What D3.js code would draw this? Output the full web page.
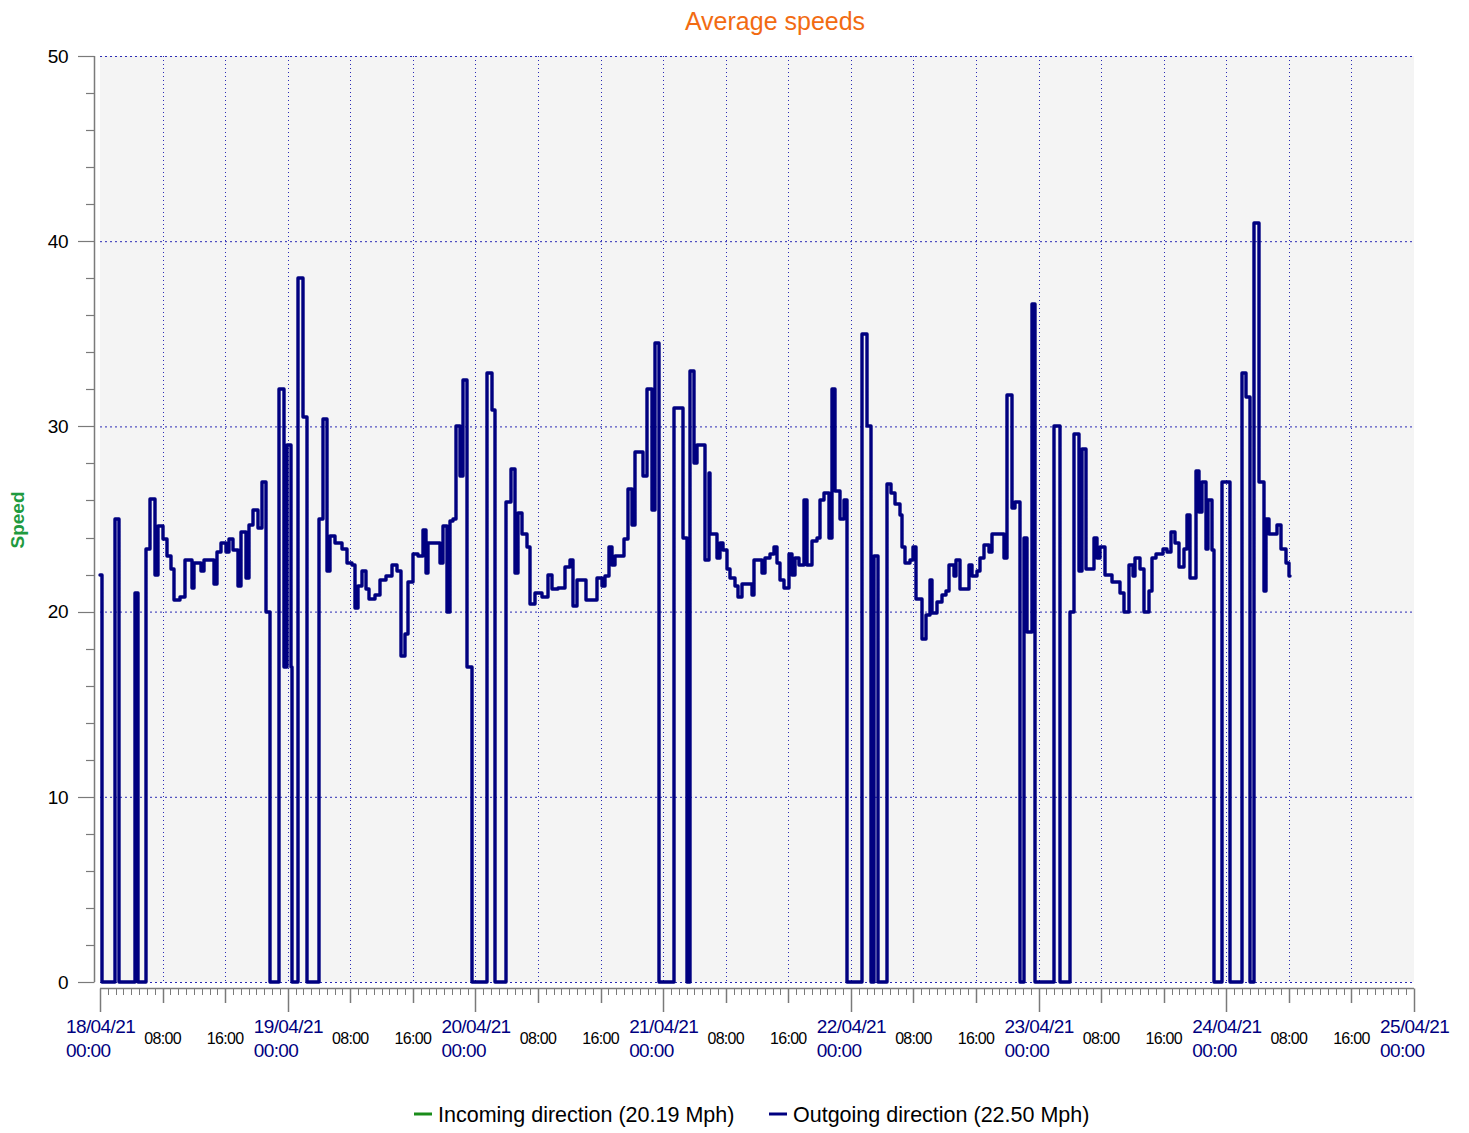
<!DOCTYPE html>
<html>
<head>
<meta charset="utf-8">
<script src="https://cdn.jsdelivr.net/npm/d3@7"></script>
<style>
  body { margin: 0; background: #ffffff; }
  text { font-family: "Liberation Sans", Arial, sans-serif; }
</style>
</head>
<body>
<div id="container"></div>
<script>
var width = 1469;
var height = 1133;

// hours after 18/04/21 00:00 where the outgoing average speed changes
var stepHours = [
    0, 0.26, 1.96, 2.47, 4.51, 4.92, 5.85, 6.40, 7.03, 7.38, 8.02, 8.53, 9.08, 9.50, 10.23, 10.87, 11.73, 12.06, 12.92, 13.34,
    14.62, 14.93, 15.48, 16.08, 16.50, 17.05, 17.61, 18.03, 18.64, 19.06, 19.61, 20.17, 20.68, 21.19, 21.74, 22.89, 23.47, 23.85,
    24.37, 24.56, 25.32, 25.93, 26.51, 28.05, 28.48, 28.99, 29.42, 30.06, 30.91, 31.55, 32.19, 32.61, 33.04, 33.47, 34.02, 34.44,
    35.17, 35.81, 36.58, 37.31, 37.95, 38.46, 39.01, 39.43, 40.07, 40.71, 41.35, 41.66, 41.99, 43.49, 43.91, 44.34, 44.77, 45.19,
    45.53, 46.04, 46.39, 46.90, 47.54,
    49.46, 50.09, 50.52, 51.93, 52.53, 53.08, 53.50, 53.94, 54.58, 55.00, 55.64, 56.49, 57.34, 57.77, 58.62, 59.47, 60.11, 60.54,
    60.97, 62.16, 63.53, 64.17, 64.59, 65.01, 65.45, 65.87, 67.02, 67.57, 68.01, 68.43, 69.49, 69.91, 70.56, 70.98, 71.50,
    73.42, 74.53, 75.04, 75.46, 75.89, 76.32, 77.38, 77.80, 78.02, 78.88, 79.21, 79.64, 80.16, 80.58, 81.22, 81.64, 82.07, 83.35,
    83.56, 84.63, 85.05, 85.69, 86.12, 86.55, 86.97, 87.40, 88.04, 88.47, 88.89, 89.31, 89.95, 90.39, 91.03, 91.67, 92.09, 92.51,
    93.15, 93.59, 94.01, 94.65, 95.07, 95.50,
    97.42, 98.06, 98.57, 98.91, 99.42, 100.62, 101.13, 101.68, 102.23, 102.54, 102.96, 103.60, 103.95, 104.37, 105.10, 105.65,
    106.07, 106.38, 107.02, 107.66, 108.21, 108.50, 109.14, 109.49, 109.91, 111.06, 111.50, 112.14, 112.55, 113.07, 113.62, 114.05,
    115.62, 115.97, 116.61, 117.03, 117.67, 118.11, 118.56, 119.14, 119.59,
    121.93, 122.69, 124.06, 124.49, 125.13, 125.56, 126.11, 127.05, 127.48, 127.90, 128.54, 129.40, 130.46, 130.88, 131.52, 132.09,
    132.38, 133.02, 133.44, 134.08, 134.52, 135.07, 135.92, 136.44, 136.95, 137.50, 137.93, 138.57, 139.00, 139.42, 140.06, 140.48,
    140.91, 141.46, 141.72, 142.17, 142.42, 143.47,
    144.53, 146.03, 146.58, 147.09, 147.52, 148.16, 148.80, 149.01, 149.44, 150.51, 150.94, 151.58, 152.00, 152.20
];

// outgoing direction speed (mph) from each of the times above
var outgoingSpeeds = [
    22, 0, 25, 0, 21, 0, 23.4, 26.1, 22.0, 24.6, 23.9, 23.0, 22.3, 20.6, 20.8, 22.8, 21.3, 22.6, 22.2, 22.8,
    21.5, 23.2, 23.7, 23.2, 23.9, 23.3, 21.4, 24.3, 21.8, 24.7, 25.5, 24.5, 27.0, 20.0, 0, 32.0, 17.0, 29.0,
    17.0, 0, 38.0, 30.5, 0, 25.0, 30.4, 22.2, 24.1, 23.7, 23.4, 22.6, 22.5, 20.2, 21.4, 22.2, 21.2, 20.7,
    20.9, 21.7, 21.9, 22.5, 22.2, 17.6, 18.8, 21.6, 23.1, 23.0, 24.4, 22.1, 23.7, 22.6, 24.6, 20.0, 24.9, 25.0,
    30.0, 27.3, 32.5, 17.0, 0,
    32.9, 30.9, 0, 25.9, 27.7, 22.1, 25.3, 24.2, 23.5, 20.4, 21.0, 20.8, 22.0, 21.2, 21.3, 22.4, 22.8, 20.3,
    21.7, 20.6, 21.8, 21.4, 21.9, 23.5, 22.5, 23.0, 23.9, 26.6, 24.7, 28.6, 27.3, 32.0, 25.5, 34.5, 0,
    31.0, 24.0, 0, 33.0, 28.0, 29.0, 22.8, 27.5, 24.2, 22.9, 23.7, 23.3, 22.3, 21.8, 21.4, 20.8, 21.5, 20.9,
    22.8, 22.1, 22.9, 23.1, 23.5, 22.6, 21.7, 21.3, 23.1, 22.0, 22.9, 22.5, 26.0, 22.5, 23.8, 24.0, 26.0, 26.4,
    24.0, 32.0, 26.5, 25.0, 26.0, 0,
    35.0, 30.0, 0, 23.0, 0, 26.9, 26.4, 25.8, 25.2, 23.5, 22.6, 22.8, 23.5, 20.7, 18.5, 19.8,
    21.7, 19.9, 20.5, 20.9, 21.1, 22.5, 21.9, 22.8, 21.2, 22.5, 21.9, 22.2, 22.9, 23.6, 23.2, 24.2,
    22.9, 31.7, 25.6, 25.9, 0, 24.0, 18.9, 36.6, 0,
    30.0, 0, 20.0, 29.6, 22.2, 28.8, 22.3, 24.0, 22.9, 23.5, 22.0, 21.6, 21.0, 20.0, 22.5, 21.9,
    22.9, 22.3, 20.0, 21.1, 22.9, 23.1, 23.4, 23.2, 24.3, 23.7, 22.4, 23.4, 25.2, 21.8, 27.6, 25.4,
    27.0, 23.4, 26.0, 23.3, 0, 27.0,
    0, 32.9, 31.6, 0, 41.0, 27.0, 21.1, 25.0, 24.2, 24.7, 23.4, 22.6, 21.9, 21.9
];

var speedTicks = [0, 10, 20, 30, 40, 50];
var legendLabels = ["Incoming direction (20.19 Mph)", "Outgoing direction (22.50 Mph)"];
var legendColors = ["#1a8c1a", "#000080"];

var startDate = new Date(2021, 3, 18, 0, 0);
var endDate = new Date(2021, 3, 25, 0, 0);

var svg = d3.select("div#container").append("svg")
    .attr("width", width)
    .attr("height", height);

var x = d3.scaleTime().domain([startDate, endDate]).range([100, 1414]);
var y = d3.scaleLinear().domain([0, 50]).range([982, 56]);

var data = stepHours.map(function(h, i) {
    return { date: d3.timeMinute.offset(startDate, Math.round(h * 60)), speed: outgoingSpeeds[i] };
});

// plot background
svg.append("rect")
    .attr("x", x.range()[0]).attr("y", y(50))
    .attr("width", x.range()[1] - x.range()[0])
    .attr("height", y(0) - y(50))
    .attr("fill", "#f4f4f4");

// dotted grid
var gridColor = "#2b2bb5";
svg.selectAll("line.hgrid")
    .data(speedTicks)
    .enter().append("line")
    .attr("class", "hgrid")
    .attr("x1", x.range()[0]).attr("x2", x.range()[1])
    .attr("y1", function(d) { return y(d) + 0.5; })
    .attr("y2", function(d) { return y(d) + 0.5; })
    .attr("stroke", gridColor)
    .attr("stroke-width", 1)
    .attr("stroke-dasharray", "2,3");

var gridTimes = d3.timeHour.every(8).range(d3.timeHour.offset(startDate, 1), endDate);
svg.selectAll("line.vgrid")
    .data(gridTimes)
    .enter().append("line")
    .attr("class", "vgrid")
    .attr("x1", function(d) { return Math.round(x(d)) + 0.5; })
    .attr("x2", function(d) { return Math.round(x(d)) + 0.5; })
    .attr("y1", y(50)).attr("y2", y(0))
    .attr("stroke", gridColor)
    .attr("stroke-width", 1)
    .attr("stroke-dasharray", "1,3");

// y axis
var axisColor = "#7a7a7a";
svg.append("line")
    .attr("x1", 94.5).attr("x2", 94.5)
    .attr("y1", y(50)).attr("y2", y(0))
    .attr("stroke", axisColor).attr("stroke-width", 1.5);

svg.selectAll("line.ytick")
    .data(d3.range(0, 51, 2))
    .enter().append("line")
    .attr("class", "ytick")
    .attr("x1", function(d) { return d % 10 === 0 ? 78 : 86; })
    .attr("x2", 94.5)
    .attr("y1", function(d) { return Math.round(y(d)) + 0.5; })
    .attr("y2", function(d) { return Math.round(y(d)) + 0.5; })
    .attr("stroke", axisColor).attr("stroke-width", 1.2);

svg.selectAll("text.ylabel")
    .data(speedTicks)
    .enter().append("text")
    .attr("class", "ylabel")
    .attr("x", 68)
    .attr("y", function(d) { return y(d); })
    .attr("dy", "0.36em")
    .attr("text-anchor", "end")
    .style("font-size", "19px")
    .style("letter-spacing", "-0.5px")
    .attr("fill", "#000")
    .text(function(d) { return d; });

svg.append("text")
    .attr("transform", "translate(24,520) rotate(-90)")
    .attr("text-anchor", "middle")
    .style("font-size", "19px")
    .style("font-weight", "bold")
    .attr("fill", "#1f9a3f")
    .text("Speed");

// x axis
var axisY = 988.5;
svg.append("line")
    .attr("x1", x.range()[0]).attr("x2", x.range()[1])
    .attr("y1", axisY).attr("y2", axisY)
    .attr("stroke", axisColor).attr("stroke-width", 1.5);

var hourTicks = d3.timeHour.every(1).range(startDate, d3.timeMinute.offset(endDate, 1));
svg.selectAll("line.xtick")
    .data(hourTicks)
    .enter().append("line")
    .attr("class", "xtick")
    .attr("x1", function(d) { return Math.round(x(d)) + 0.5; })
    .attr("x2", function(d) { return Math.round(x(d)) + 0.5; })
    .attr("y1", axisY)
    .attr("y2", function(d) {
        if (d.getHours() === 0) return 1012;
        if (d.getHours() % 8 === 0) return 1003;
        return 995;
    })
    .attr("stroke", axisColor)
    .attr("stroke-width", function(d) { return d.getHours() % 8 === 0 ? 1.5 : 1; });

var dayTicks = d3.timeDay.range(startDate, d3.timeMinute.offset(endDate, 1));
var dayLabels = svg.selectAll("text.day")
    .data(dayTicks)
    .enter().append("text")
    .attr("class", "day")
    .attr("x", function(d) { return x(d) - 34; })
    .attr("y", 1033)
    .style("font-size", "19px")
    .style("letter-spacing", "-0.6px")
    .attr("fill", "#000080");
dayLabels.append("tspan")
    .text(d3.timeFormat("%d/%m/%y"));
dayLabels.append("tspan")
    .attr("x", function(d) { return x(d) - 34; })
    .attr("dy", 24)
    .text(d3.timeFormat("%H:%M"));

var hourLabels = gridTimes.filter(function(d) { return d.getHours() !== 0; });
svg.selectAll("text.hour")
    .data(hourLabels)
    .enter().append("text")
    .attr("class", "hour")
    .attr("x", function(d) { return x(d); })
    .attr("y", 1044)
    .attr("text-anchor", "middle")
    .style("font-size", "16px")
    .style("letter-spacing", "-0.7px")
    .attr("fill", "#000")
    .text(d3.timeFormat("%H:%M"));

// outgoing speed step line
var line = d3.line()
    .curve(d3.curveStepAfter)
    .x(function(d) { return Math.round(x(d.date)); })
    .y(function(d) { return Math.round(y(d.speed)); });

svg.append("path")
    .datum(data)
    .attr("d", line)
    .attr("fill", "none")
    .attr("stroke", "#000080")
    .attr("stroke-width", 3.4)
    .attr("stroke-linejoin", "round")
    .attr("stroke-linecap", "round");

// title
svg.append("text")
    .attr("x", 775)
    .attr("y", 30)
    .attr("text-anchor", "middle")
    .style("font-size", "25px")
    .attr("fill", "#f26b12")
    .text("Average speeds");

// legend
var legendX = [414, 769];
var legend = svg.selectAll("g.legend")
    .data(legendLabels)
    .enter().append("g")
    .attr("class", "legend")
    .attr("transform", function(d, i) { return "translate(" + legendX[i] + ",1114)"; });
legend.append("line")
    .attr("x1", 0).attr("x2", 18)
    .attr("stroke", function(d, i) { return legendColors[i]; })
    .attr("stroke-width", 3);
legend.append("text")
    .attr("x", 24)
    .attr("y", 8)
    .style("font-size", "21.5px")
    .attr("fill", "#000")
    .text(function(d) { return d; });
</script>
</body>
</html>
